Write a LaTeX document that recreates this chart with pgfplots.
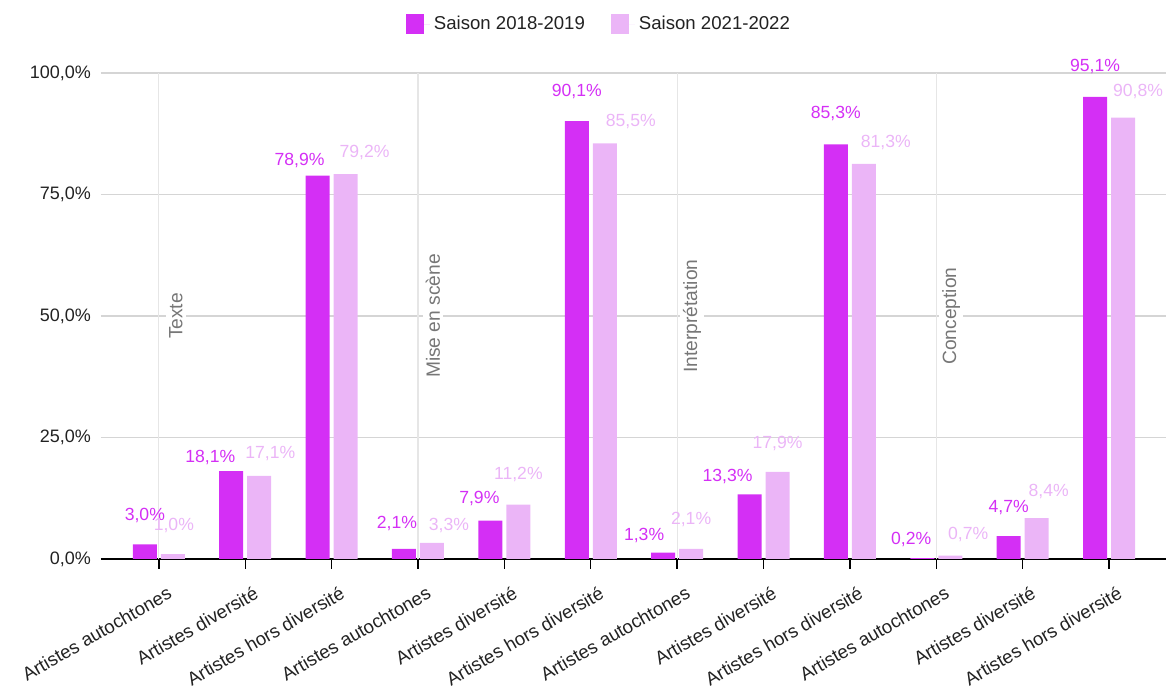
\documentclass[border=0pt]{standalone}
\usepackage{fontspec}
\setmainfont{Liberation Sans}
\usepackage{pgfplots}
\usepackage{pgfplotstable}
\pgfplotsset{compat=1.18}
\definecolor{cA}{HTML}{D42FF5}
\definecolor{cB}{HTML}{EBB5F7}
\definecolor{gridc}{HTML}{D5D5D5}
\definecolor{vsep}{HTML}{E6E6E6}
\definecolor{glab}{HTML}{777777}
\definecolor{txt}{HTML}{222222}

\pgfplotstableread{
x y dx dy
0 3.0 0 14.5
1 18.1 -10.5 7
2 78.9 -9 7.5
3 2.1 -3.5 12.5
4 7.9 -5.5 11
5 90.1 0 15
6 1.3 -9.5 8.5
7 13.3 -11 9
8 85.3 0 15.5
9 0.2 -5.5 9.5
10 4.7 0 14.5
11 95.1 0 15
}\dataA

\pgfplotstableread{
x y dx dy
0 1.0 0.5 14.5
1 17.1 5.5 11
2 79.2 9.5 11
3 3.3 8.5 8.5
4 11.2 0 15
5 85.5 13 11
6 2.1 0 14.5
7 17.9 0 14.5
8 81.3 11 10.5
9 0.7 9 10.5
10 8.4 6 13.5
11 90.8 7.5 13
}\dataB

\begin{document}
\begin{tikzpicture}
\path[use as bounding box] (0,0) rectangle (583pt,344pt);
\begin{axis}[
  at={(50.5pt,64.5pt)}, anchor=south west,
  scale only axis, width=532.5pt, height=243pt,
  xmin=-0.67, xmax=11.66, ymin=0, ymax=100,
  clip=false,
  ybar=2pt, bar width=12pt,
  axis lines*=left,
  y axis line style={draw=none},
  x axis line style={black, line width=0.7pt},
  xtick={0,...,11},
  xticklabels={Artistes autochtones, Artistes diversité, Artistes hors diversité,
    Artistes autochtones, Artistes diversité, Artistes hors diversité,
    Artistes autochtones, Artistes diversité, Artistes hors diversité,
    Artistes autochtones, Artistes diversité, Artistes hors diversité},
  xtick style={black, line width=0.7pt},
  tick align=outside, major tick length=5pt,
  xticklabel style={xshift=8.5pt, yshift=-9.5pt, rotate=30, anchor=east, text=txt, font=\fontsize{9.3}{11}\selectfont},
  extra x ticks={0,3,6,9},
  extra x tick labels={},
  extra x tick style={grid=major, major grid style={vsep, line width=0.6pt}, tick style={draw=none}},
  ytick={0,25,50,75,100},
  ytick style={draw=none},
  ymajorgrids, major grid style={gridc, line width=0.8pt},
  yticklabel style={text=txt, font=\fontsize{9}{11}\selectfont, xshift=3.5pt},
  /pgf/number format/.cd, fixed, fixed zerofill, precision=1, use comma, assume math mode=true,
  /pgfplots/.cd,
  yticklabel={\pgfmathprintnumber{\tick}\%},
  legend columns=2,
  legend style={at={(0.4685,1.1)}, anchor=center, draw=none, fill=none,
    font=\fontsize{9.3}{11}\selectfont, text=txt,
    /tikz/every even column/.append style={column sep=11pt}},
  legend image code/.code={\fill[#1] (0pt,-5pt) rectangle (9pt,5pt); \path (0pt,0pt) -- (12pt,0pt);},
]
\addplot[fill=cA, draw=none,
  visualization depends on={\thisrow{dx} \as \labdx},
  visualization depends on={\thisrow{dy} \as \labdy},
  nodes near coords={\pgfmathprintnumber{\pgfplotspointmeta}\%},
  every node near coord/.append style={anchor=center, font=\fontsize{8.8}{11}\selectfont, text=cA, xshift=\labdx, yshift=\labdy}]
  table[x=x,y=y]{\dataA};
\addlegendentry{Saison 2018-2019}
\addplot[fill=cB, draw=none,
  visualization depends on={\thisrow{dx} \as \labdx},
  visualization depends on={\thisrow{dy} \as \labdy},
  nodes near coords={\pgfmathprintnumber{\pgfplotspointmeta}\%},
  every node near coord/.append style={anchor=center, font=\fontsize{8.8}{11}\selectfont, text=cB, xshift=\labdx, yshift=\labdy}]
  table[x=x,y=y]{\dataB};
\addlegendentry{Saison 2021-2022}

\node[xshift=8.5pt, rotate=90, fill=white, inner sep=1.5pt, text=glab, font=\fontsize{9.6}{11}\selectfont] at (axis cs:0,50) {Texte};
\node[xshift=7.5pt, rotate=90, fill=white, inner sep=1.5pt, text=glab, font=\fontsize{9.6}{11}\selectfont] at (axis cs:3,50) {Mise en scène};
\node[xshift=7.5pt, rotate=90, fill=white, inner sep=1.5pt, text=glab, font=\fontsize{9.6}{11}\selectfont] at (axis cs:6,50) {Interprétation};
\node[xshift=7.5pt, rotate=90, fill=white, inner sep=1.5pt, text=glab, font=\fontsize{9.6}{11}\selectfont] at (axis cs:9,50) {Conception};
\end{axis}
\end{tikzpicture}
\end{document}
